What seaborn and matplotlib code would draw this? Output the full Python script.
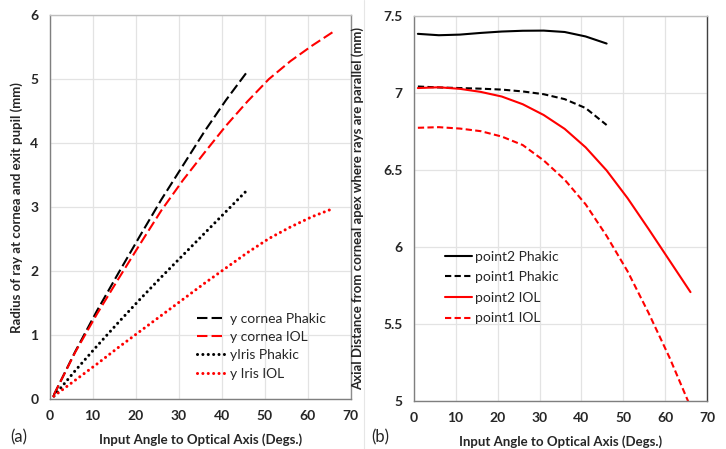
import numpy as np
import pandas as pd
import matplotlib
matplotlib.use("Agg")
import matplotlib.pyplot as plt
import seaborn as sns
from matplotlib.lines import Line2D

# data
angle_phakic = [1, 6, 11, 16, 21, 26, 31, 36, 41, 46]
angle_iol = [1, 6, 11, 16, 21, 26, 31, 36, 41, 46, 51, 56, 61, 66]

# panel (a): radius of ray (mm)
y_cornea_phakic = [0.07, 0.75, 1.38, 1.97, 2.55, 3.12, 3.65, 4.18, 4.67, 5.12]
y_cornea_iol = [0.07, 0.74, 1.33, 1.88, 2.42, 2.95, 3.42, 3.85, 4.27, 4.65, 5.0, 5.28, 5.52, 5.74]
y_iris_phakic = [0.05, 0.45, 0.83, 1.2, 1.56, 1.91, 2.25, 2.59, 2.93, 3.27]
y_iris_iol = [0.05, 0.3, 0.55, 0.81, 1.06, 1.31, 1.56, 1.81, 2.05, 2.29, 2.51, 2.69, 2.85, 2.98]

# panel (b): axial distance (mm)
point2_phakic = [7.382, 7.373, 7.377, 7.388, 7.397, 7.402, 7.403, 7.394, 7.365, 7.319]
point1_phakic = [7.04, 7.034, 7.03, 7.026, 7.02, 7.008, 6.99, 6.958, 6.9, 6.79]
point2_iol = [7.03, 7.035, 7.025, 7.005, 6.975, 6.925, 6.855, 6.765, 6.645, 6.495,
              6.315, 6.115, 5.91, 5.705]
point1_iol = [6.772, 6.776, 6.767, 6.75, 6.715, 6.66, 6.56, 6.435, 6.275, 6.07,
              5.84, 5.57, 5.28, 4.96]

sns.set_style("white")
plt.rcParams["font.family"] = ["Lato", "DejaVu Sans"]

fig = plt.figure(figsize=(7.26, 4.49), dpi=100)
ax1 = fig.add_axes([0.0683, 0.1107, 0.4147, 0.8559])
ax2 = fig.add_axes([0.5698, 0.1076, 0.4044, 0.8575])

long_dash = (0, (5, 2))
short_dash = (0, (3, 1.6))
dots = (0, (0.01, 1.75))
lw = 1.5

# ---- panel (a)
sns.lineplot(x=angle_phakic, y=y_cornea_phakic, ax=ax1, color="black", lw=lw,
             linestyle=long_dash, label="y cornea Phakic")
sns.lineplot(x=angle_iol, y=y_cornea_iol, ax=ax1, color="red", lw=lw,
             linestyle=long_dash, label="y cornea IOL")
sns.lineplot(x=angle_phakic, y=y_iris_phakic, ax=ax1, color="black", lw=2.2,
             linestyle=dots, dash_capstyle="round", label="yIris Phakic")
sns.lineplot(x=angle_iol, y=y_iris_iol, ax=ax1, color="red", lw=2.2,
             linestyle=dots, dash_capstyle="round", label="y Iris IOL")
ax1.set_xlim(0, 70)
ax1.set_ylim(0, 6)
ax1.set_xticks(range(0, 71, 10))
ax1.set_yticks(range(0, 7))
ax1.set_ylabel("Radius of ray at cornea and exit pupil (mm)", fontsize=9.5,
               fontweight="bold", labelpad=5)
ax1.legend(loc="upper left", bbox_to_anchor=(0.49, 0.225), frameon=False,
           fontsize=10, handlelength=1.9, handletextpad=0.45, labelspacing=0.45,
           borderpad=0, borderaxespad=0)

# ---- panel (b)
sns.lineplot(x=angle_phakic, y=point2_phakic, ax=ax2, color="black", lw=lw,
             label="point2 Phakic")
sns.lineplot(x=angle_phakic, y=point1_phakic, ax=ax2, color="black", lw=lw,
             linestyle=short_dash, label="point1 Phakic")
sns.lineplot(x=angle_iol, y=point2_iol, ax=ax2, color="red", lw=lw,
             label="point2 IOL")
sns.lineplot(x=angle_iol, y=point1_iol, ax=ax2, color="red", lw=lw,
             linestyle=short_dash, label="point1 IOL")
ax2.set_xlim(0, 70)
ax2.set_ylim(5, 7.5)
ax2.set_xticks(range(0, 71, 10))
ax2.set_yticks([5, 5.5, 6, 6.5, 7, 7.5])
ax2.set_yticklabels(["5", "5.5", "6", "6.5", "7", "7.5"])
ax2.set_ylabel("Axial Distance from corneal apex where rays are parallel (mm)",
               fontsize=9.5, fontweight="bold", labelpad=14)
ax2.legend(loc="upper left", bbox_to_anchor=(0.108, 0.39), frameon=False,
           fontsize=10, handlelength=1.95, handletextpad=0.15, labelspacing=0.62,
           borderpad=0, borderaxespad=0)

for ax in (ax1, ax2):
    ax.set_xlabel("Input Angle to Optical Axis (Degs.)", fontsize=9.5,
                  fontweight="bold", labelpad=8)
    ax.grid(True, color="#e3e3e3", lw=0.9)
    ax.set_axisbelow(True)
    ax.tick_params(length=0, labelsize=10, pad=8)
    for lab in ax.get_xticklabels() + ax.get_yticklabels():
        lab.set_fontweight("bold")
    for s in ax.spines.values():
        s.set_color("#bfbfbf")
        s.set_linewidth(1.0)
    ax.spines["left"].set_color("#7f7f7f")
    ax.spines["bottom"].set_color("#7f7f7f")
ax2.spines["right"].set_color("#404040")
ax1.spines["right"].set_color("#8c8c8c")

fig.text(0.014, 0.027, "(a)", fontsize=12, va="center", ha="left")
fig.text(0.512, 0.027, "(b)", fontsize=12, va="center", ha="left")
fig.add_artist(Line2D([0.501, 0.501], [0, 1], transform=fig.transFigure,
                      color="#e6e6e6", lw=0.8))

fig.savefig("out.png", dpi=100)
